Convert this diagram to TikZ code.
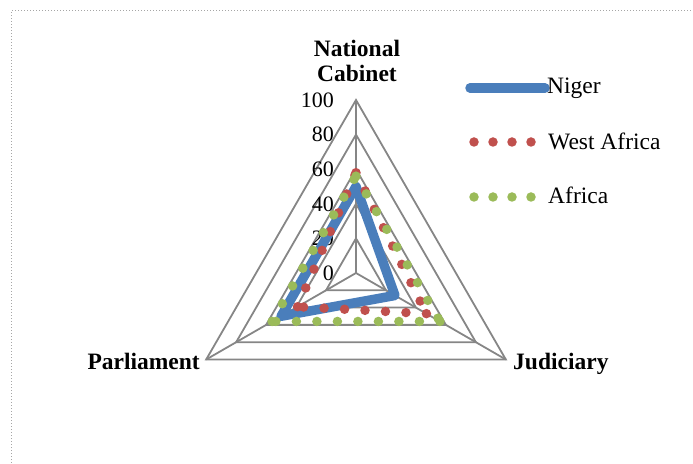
\documentclass[tikz,border=0pt]{standalone}
\usepackage{fontspec}
\setmainfont{Liberation Serif}
\usetikzlibrary{positioning}
\definecolor{nigerblue}{RGB}{74,126,187}
\definecolor{westred}{RGB}{192,80,77}
\definecolor{afrigreen}{RGB}{155,187,89}
\definecolor{gridgray}{RGB}{134,134,134}

\begin{document}
\begin{tikzpicture}[x=1pt,y=1pt,
  grid/.style={gridgray, line width=1.8pt},
  dots/.style={line width=9.5pt, line cap=round, dash pattern=on 0pt off 20.5pt},
  lbl/.style={font=\fontsize{23.5}{25}\selectfont, inner sep=0pt},
  axlbl/.style={font=\fontsize{23.5}{25}\selectfont\bfseries, inner sep=0pt}]

 \useasboundingbox (0,0) rectangle (693,463);
 \draw[gray!70, line width=1pt, dash pattern=on 1pt off 2pt] (11,0) -- (11,452) -- (693,452);

 \coordinate (O) at (356,190);
 % rings and spokes
 \foreach \r in {20,40,60,80,100}
   \draw[grid, shift={(O)}] (90:{1.73*\r}) -- (-30:{1.73*\r}) -- (210:{1.73*\r}) -- cycle;
 \foreach \a in {90,-30,210}
   \draw[grid] (O) -- ++(\a:173);

 % tick labels
 \foreach \v in {0,20,...,100}
   \node[lbl, font=\fontsize{22}{24}\selectfont, anchor=east] (t\v) at (334,{190+1.73*\v}) {\v};

 % axis labels
 \node[axlbl, align=center, anchor=south] (cab) at (357,381) {National\\Cabinet};
 \node[axlbl, anchor=base east] (par) at (200,93) {Parliament};
 \node[axlbl, anchor=base west] (jud) at (513,93) {Judiciary};

 % series
 \path[shift={(O)}] (90:{1.73*50}) coordinate (n1) (-30:{1.73*26}) coordinate (n2) (210:{1.73*50}) coordinate (n3);
 \path[shift={(O)}] (90:{1.73*58}) coordinate (w1) (-30:{1.73*47}) coordinate (w2) (210:{1.73*39}) coordinate (w3);
 \path[shift={(O)}] (90:{1.73*56}) coordinate (a1) (-30:{1.73*56}) coordinate (a2) (210:{1.73*56}) coordinate (a3);

 \draw[nigerblue, line width=9.5pt, line join=round] (n1) -- (n2) -- (n3) -- cycle;
 \draw[westred, dots] (w1) -- (w2);
 \draw[westred, dots] (w2) -- (w3);
 \draw[westred, dots] (w3) -- (w1);
 \draw[afrigreen, dots] (a1) -- (a2);
 \draw[afrigreen, dots] (a2) -- (a3);
 \draw[afrigreen, dots] (a3) -- (a1);

 % legend
 \coordinate (l1a) at (470,375);
 \coordinate (l1b) at (545,375);
 \draw[nigerblue, line width=9.5pt, line cap=round] (l1a) -- (l1b);
 \node[lbl, anchor=base west] (niger) at (547,369) {Niger};
 \coordinate (l2a) at (474,321);
 \coordinate (l2b) at (532,321);
 \draw[westred, dots, dash pattern=on 0pt off 19pt] (l2a) -- (l2b);
 \node[lbl, anchor=base west] (west) at (548,313) {West Africa};
 \coordinate (l3a) at (474,266);
 \coordinate (l3b) at (532,266);
 \draw[afrigreen, dots, dash pattern=on 0pt off 19pt] (l3a) -- (l3b);
 \node[lbl, anchor=base west] (afr) at (548,259) {Africa};

\end{tikzpicture}
\end{document}
